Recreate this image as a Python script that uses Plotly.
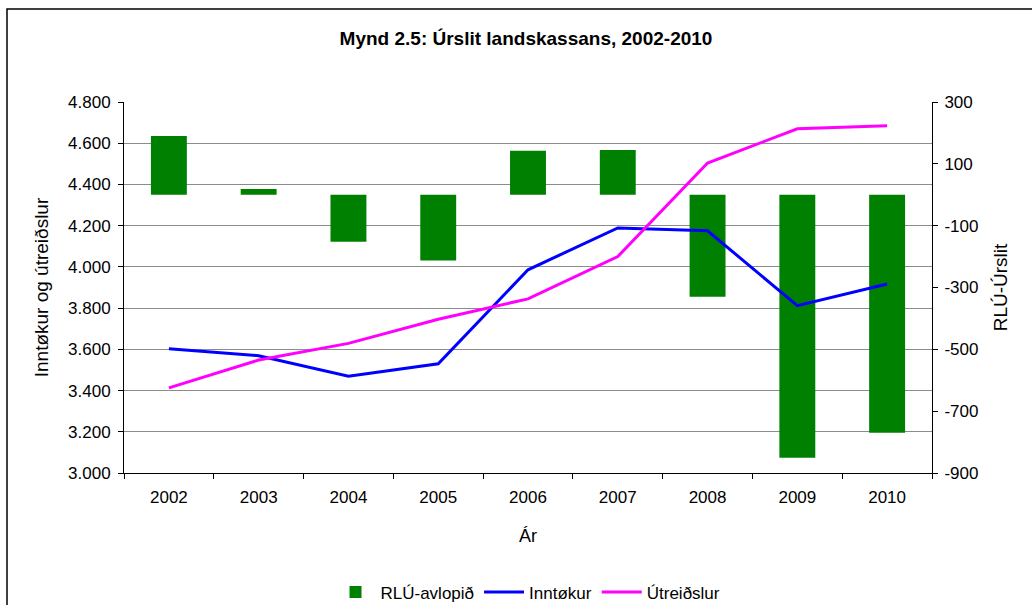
import plotly.graph_objects as go

years = ["2002", "2003", "2004", "2005", "2006", "2007", "2008", "2009", "2010"]
inntokur = [3603, 3569, 3470, 3530, 3986, 4189, 4175, 3812, 3917]
utreidslur = [3413, 3548, 3629, 3746, 3845, 4050, 4504, 4670, 4685]
rlu_avlopid = [190, 19, -152, -213, 142, 145, -330, -851, -770]

left_ticks = [3000, 3200, 3400, 3600, 3800, 4000, 4200, 4400, 4600, 4800]
left_labels = ["3.000", "3.200", "3.400", "3.600", "3.800", "4.000", "4.200", "4.400", "4.600", "4.800"]
right_ticks = [300, 100, -100, -300, -500, -700, -900]
right_labels = ["300", "100", "-100", "-300", "-500", "-700", "-900"]

FONT = "Liberation Sans, Arial, sans-serif"

fig = go.Figure()
# bars on the main (right-side) axis so the lines (overlay axis) draw on top
fig.add_trace(go.Bar(x=years, y=rlu_avlopid, name="RLÚ-avlopið", yaxis="y",
                     marker=dict(color="#008000", line=dict(width=0)), width=0.4))
fig.add_trace(go.Scatter(x=years, y=inntokur, name="Inntøkur", mode="lines", yaxis="y2",
                         line=dict(color="#0000FF", width=3)))
fig.add_trace(go.Scatter(x=years, y=utreidslur, name="Útreiðslur", mode="lines", yaxis="y2",
                         line=dict(color="#FF00FF", width=3)))

fig.update_layout(
    width=1032, height=605,
    margin=dict(l=124, r=100, t=102, b=132, autoexpand=False),
    paper_bgcolor="white", plot_bgcolor="white",
    font=dict(family=FONT, size=17, color="black"),
    title=dict(text="<b>Mynd 2.5: Úrslit landskassans, 2002-2010</b>",
               x=526 / 1032, xanchor="center", y=1 - 38 / 605, yanchor="middle",
               font=dict(size=19)),
    xaxis=dict(type="category", showline=True, linecolor="black", linewidth=1,
               ticks="outside", tickson="boundaries", ticklen=5, tickcolor="black",
               ticklabelstandoff=9,
               showgrid=False, title=dict(text="Ár", standoff=22, font=dict(size=18))),
    yaxis2=dict(range=[3000, 4800], tickvals=left_ticks, ticktext=left_labels,
                overlaying="y", side="left", showline=True, linecolor="black", linewidth=1,
                ticks="outside", ticklen=5, tickcolor="black", ticklabelstandoff=4,
                showgrid=True, gridcolor="#8c8c8c", gridwidth=1, zeroline=False,
                title=dict(text="Inntøkur og útreiðslur", standoff=14, font=dict(size=19))),
    yaxis=dict(range=[-900, 300], tickvals=right_ticks, ticktext=right_labels,
               side="right", showline=True, linecolor="black", linewidth=1,
               ticks="outside", ticklen=5, tickcolor="black", ticklabelstandoff=3,
               showgrid=False, zeroline=False,
               title=dict(text="RLÚ-Úrslit", standoff=16, font=dict(size=19))),
    legend=dict(orientation="h", x=0.5, xanchor="center", y=-0.322, yanchor="middle",
                font=dict(size=17), traceorder="normal", itemwidth=40,
                bgcolor="rgba(0,0,0,0)"),
    showlegend=True,
)

# outer chart border
fig.add_shape(type="rect", xref="paper", yref="paper",
              x0=(7 - 124) / 808, x1=(1040 - 124) / 808,
              y0=(473 - 620) / 371, y1=(473 - 9) / 371,
              line=dict(color="black", width=1.5), fillcolor="rgba(0,0,0,0)", layer="below")

fig.write_html("out.html", config={"displayModeBar": False},
               post_script="document.body.style.margin='0';")
